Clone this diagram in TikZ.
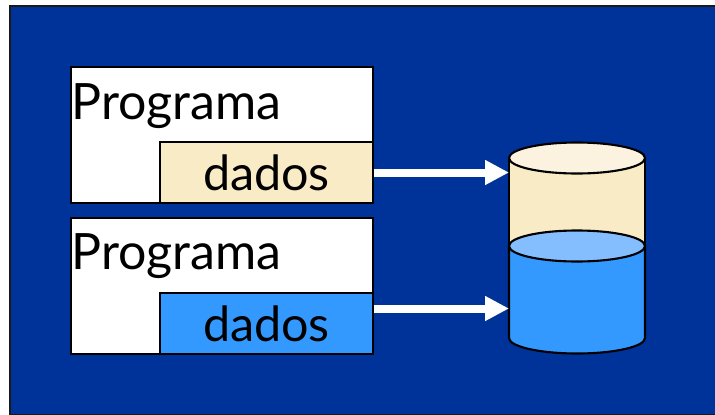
\documentclass[tikz,border=0pt]{standalone}
\usepackage{fontspec}
\setmainfont{Lato}
\usepackage{xcolor}
\usetikzlibrary{arrows.meta}
\definecolor{fundo}{HTML}{003399}
\definecolor{creme}{HTML}{F9EBC6}
\definecolor{cremeclaro}{HTML}{FBF3DF}
\definecolor{azul}{HTML}{3399FF}
\definecolor{azulclaro}{HTML}{85BEFF}
\tikzset{
	progbox/.style={draw=black,line width=1.2pt,fill=white,minimum width=6.04cm,minimum height=2.72cm,inner sep=0pt},
	dadosbox/.style={draw=black,line width=1.2pt,minimum width=4.26cm,minimum height=1.22cm,inner sep=0pt,font=\fontsize{27.6}{30}\selectfont},
	progtext/.style={anchor=base west,inner sep=0pt,font=\fontsize{28.5}{30}\selectfont},
	seta/.style={-{Triangle[length=.48cm,width=.47cm]},white,line width=.16cm},
	cil/.style={draw=black,line width=1.2pt}
}
\begin{document}
\begin{tikzpicture}
		\useasboundingbox (0,0) rectangle (14.3,8.28);
		% BACKGROUND
		\draw [fill=fundo,draw=black!90,line width=1pt] (.2,8.16) rectangle (14.4,-.02);
		% PROGRAMS
		\node [progbox] (progA) at (4.44,5.58) {};
		\node [progbox] (progB) at (4.44,2.56) {};
		\node [progtext] (textA) at (1.42,5.9) {Programa};
		\node [progtext] (textB) at (1.42,2.89) {Programa};
		\node [dadosbox,fill=creme] (dadosA) at (5.33,4.83) {dados};
		\node [dadosbox,fill=azul] (dadosB) at (5.33,1.81) {dados};
		% CYLINDER
		\draw [cil,fill=creme] (10.18,5.12) -- (10.18,3.36) -- (12.9,3.36) -- (12.9,5.12) -- cycle;
		\draw [cil,fill=cremeclaro] (11.54,5.12) ellipse (1.36 and .31);
		\draw [cil,fill=azul] (10.18,3.36) -- (10.18,1.52) arc (180:360:1.36 and .31) -- (12.9,3.36) -- cycle;
		\draw [cil,fill=azulclaro] (11.54,3.36) ellipse (1.36 and .31);
		\coordinate (inA) at (10.18,4.83);
		\coordinate (inB) at (10.18,2.11);
		% ARROWS
		\draw [seta] (dadosA.east) -- (inA);
		\draw [seta] (dadosB.east |- inB) -- (inB);
		\end{tikzpicture}
\end{document}
